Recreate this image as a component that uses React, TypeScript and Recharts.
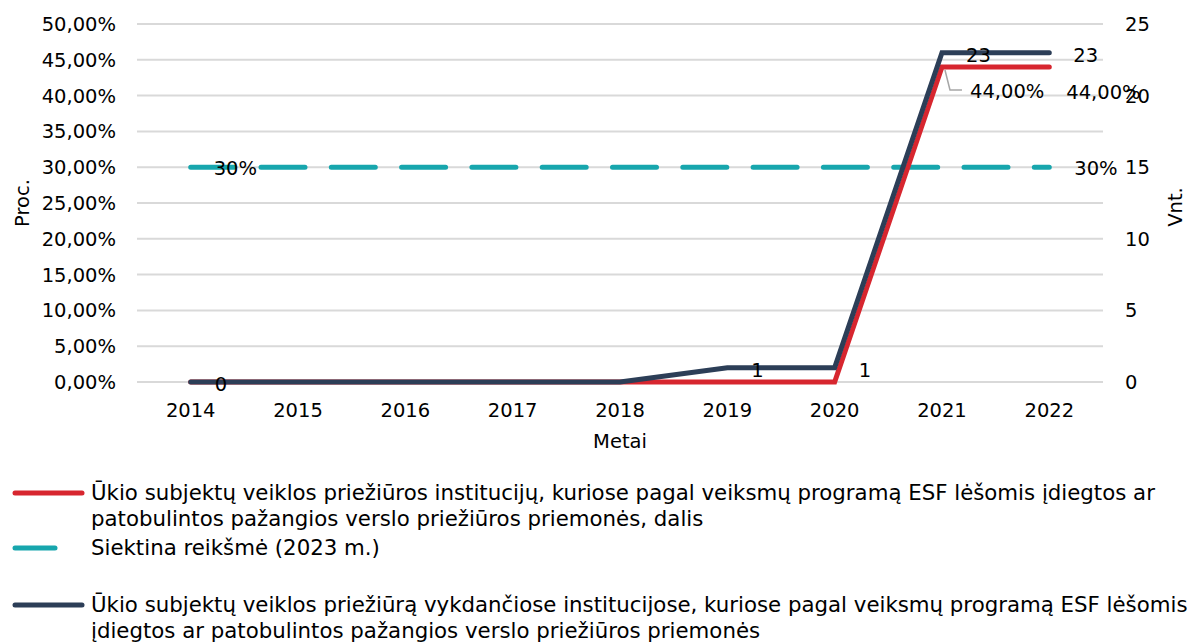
import React from 'react';
import { ComposedChart, Line, XAxis, YAxis, CartesianGrid, Label, LabelList } from 'recharts';

const years = ['2014', '2015', '2016', '2017', '2018', '2019', '2020', '2021', '2022'];
const shareValues = [0, 0, 0, 0, 0, 0, 0, 0.44, 0.44];
const targetValues = [0.3, 0.3, 0.3, 0.3, 0.3, 0.3, 0.3, 0.3, 0.3];
const countValues = [0, 0, 0, 0, 0, 1, 1, 23, 23];
const percentTicks = [0, 0.05, 0.1, 0.15, 0.2, 0.25, 0.3, 0.35, 0.4, 0.45, 0.5];
const countTicks = [0, 5, 10, 15, 20, 25];
const countLabelIdx = [0, 5, 6, 7, 8];
const shareLabelIdx = [7, 8];
const targetLabelIdx = [0, 8];

const seriesNames = {
  share: [
    'Ūkio subjektų veiklos priežiūros institucijų, kuriose pagal veiksmų programą ESF lėšomis įdiegtos ar',
    'patobulintos pažangios verslo priežiūros priemonės, dalis',
  ],
  target: ['Siektina reikšmė (2023 m.)'],
  count: [
    'Ūkio subjektų veiklos priežiūrą vykdančiose institucijose, kuriose pagal veiksmų programą ESF lėšomis',
    'įdiegtos ar patobulintos pažangios verslo priežiūros priemonės',
  ],
};

const RED = '#d7262f';
const NAVY = '#2c3e57';
const TEAL = '#17a6ad';
const FONT = '"DejaVu Sans", sans-serif';
const FS = 19.5;
const LEGEND_FS = 21.3;

const fmtPct2 = (v: number) => (v * 100).toFixed(2).replace('.', ',') + '%';
const fmtPct0 = (v: number) => Math.round(v * 100) + '%';

const data = years.map((year, i) => ({
  year,
  share: shareValues[i],
  target: targetValues[i],
  count: countValues[i],
  shareLabel: shareLabelIdx.includes(i) ? fmtPct2(shareValues[i]) : null,
  targetLabel: targetLabelIdx.includes(i) ? fmtPct0(targetValues[i]) : null,
  countLabel: countLabelIdx.includes(i) ? String(countValues[i]) : null,
}));

const last = years.length - 1;

const countLabel = (p: any) => {
  if (p.value === null || p.value === undefined) return null;
  return (
    <text x={p.x + 24} y={p.y + 2.5} fontSize={FS} fontFamily={FONT} fill="#000" dominantBaseline="central">
      {p.value}
    </text>
  );
};

const targetLabel = (p: any) => {
  if (p.value === null || p.value === undefined) return null;
  const dx = p.index === last ? 25 : 23;
  return (
    <text x={p.x + dx} y={p.y + 1.5} fontSize={FS} fontFamily={FONT} fill="#000" dominantBaseline="central">
      {p.value}
    </text>
  );
};

const shareLabel = (p: any) => {
  if (p.value === null || p.value === undefined) return null;
  if (p.index === last) {
    return (
      <text x={p.x + 17} y={p.y + 26} fontSize={FS} fontFamily={FONT} fill="#000" dominantBaseline="central">
        {p.value}
      </text>
    );
  }
  return (
    <g>
      <polyline
        points={`${p.x + 3},${p.y + 3} ${p.x + 8},${p.y + 23} ${p.x + 20},${p.y + 23}`}
        fill="none"
        stroke="#a6a6a6"
        strokeWidth={1.5}
      />
      <text x={p.x + 28} y={p.y + 25} fontSize={FS} fontFamily={FONT} fill="#000" dominantBaseline="central">
        {p.value}
      </text>
    </g>
  );
};

const legendRows = [
  { key: 'share', color: RED, dashed: false, top: 480 },
  { key: 'target', color: TEAL, dashed: true, top: 535 },
  { key: 'count', color: NAVY, dashed: false, top: 592 },
] as const;

export default function App() {
  return (
    <div
      style={{
        position: 'absolute',
        left: 0,
        top: 0,
        width: 1187,
        height: 643,
        background: '#fff',
        overflow: 'hidden',
        fontFamily: FONT,
      }}
    >
      <ComposedChart width={1187} height={460} data={data} margin={{ top: 24, right: 24, left: 0, bottom: 18 }}>
        <CartesianGrid yAxisId="left" vertical={false} stroke="#d9d9d9" strokeWidth={2} />
        <XAxis
          dataKey="year"
          axisLine={false}
          tickLine={false}
          tickSize={0}
          tickMargin={21}
          height={60}
          padding={{ left: 53.7, right: 53.7 }}
          interval={0}
          tick={{ fontSize: FS, fontFamily: FONT, fill: '#000' }}
        >
          <Label
            content={(props: any) => {
              const vb = props.viewBox || { x: 137, width: 966 };
              return (
                <text x={vb.x + vb.width / 2} y={441} textAnchor="middle" dominantBaseline="central" fontSize={FS} fontFamily={FONT} fill="#000">
                  Metai
                </text>
              );
            }}
          />
        </XAxis>
        <YAxis
          yAxisId="left"
          domain={[0, 0.5]}
          ticks={percentTicks}
          tickFormatter={fmtPct2}
          axisLine={false}
          tickLine={false}
          tickSize={0}
          tickMargin={21}
          width={137}
          interval={0}
          tick={{ fontSize: FS, fontFamily: FONT, fill: '#000' }}
        >
          <Label
            content={() => (
              <text x={22} y={203} transform="rotate(-90 22 203)" textAnchor="middle" dominantBaseline="central" fontSize={FS} fontFamily={FONT} fill="#000">
                Proc.
              </text>
            )}
          />
        </YAxis>
        <YAxis
          yAxisId="right"
          orientation="right"
          domain={[0, 25]}
          ticks={countTicks}
          axisLine={false}
          tickLine={false}
          tickSize={0}
          tickMargin={22}
          width={60}
          interval={0}
          tick={{ fontSize: FS, fontFamily: FONT, fill: '#000' }}
        >
          <Label
            content={() => (
              <text x={1175} y={207} transform="rotate(-90 1175 207)" textAnchor="middle" dominantBaseline="central" fontSize={FS} fontFamily={FONT} fill="#000">
                Vnt.
              </text>
            )}
          />
        </YAxis>
        <Line
          yAxisId="left"
          dataKey="target"
          stroke={TEAL}
          strokeWidth={5}
          strokeDasharray="44 26.3"
          strokeLinecap="round"
          dot={false}
          activeDot={false}
          isAnimationActive={false}
        >
          <LabelList dataKey="targetLabel" content={targetLabel} />
        </Line>
        <Line
          yAxisId="left"
          dataKey="share"
          stroke={RED}
          strokeWidth={5}
          strokeLinecap="round"
          strokeLinejoin="miter"
          dot={false}
          activeDot={false}
          isAnimationActive={false}
        >
          <LabelList dataKey="shareLabel" content={shareLabel} />
        </Line>
        <Line
          yAxisId="right"
          dataKey="count"
          stroke={NAVY}
          strokeWidth={5}
          strokeLinecap="round"
          strokeLinejoin="miter"
          dot={false}
          activeDot={false}
          isAnimationActive={false}
        >
          <LabelList dataKey="countLabel" content={countLabel} />
        </Line>
      </ComposedChart>
      {legendRows.map((row) => (
        <div key={row.key} style={{ position: 'absolute', left: 0, top: row.top, width: 1187 }}>
          <svg width={90} height={26} style={{ position: 'absolute', left: 0, top: 0 }}>
            <line
              x1={15}
              x2={row.dashed ? 55 : 82}
              y1={13}
              y2={13}
              stroke={row.color}
              strokeWidth={5}
              strokeLinecap="round"
            />
          </svg>
          <div
            style={{
              position: 'absolute',
              left: 91,
              top: 0,
              fontSize: LEGEND_FS,
              lineHeight: '26px',
              color: '#000',
              whiteSpace: 'nowrap',
            }}
          >
            {seriesNames[row.key].map((t, i) => (
              <div key={i}>{t}</div>
            ))}
          </div>
        </div>
      ))}
    </div>
  );
}
